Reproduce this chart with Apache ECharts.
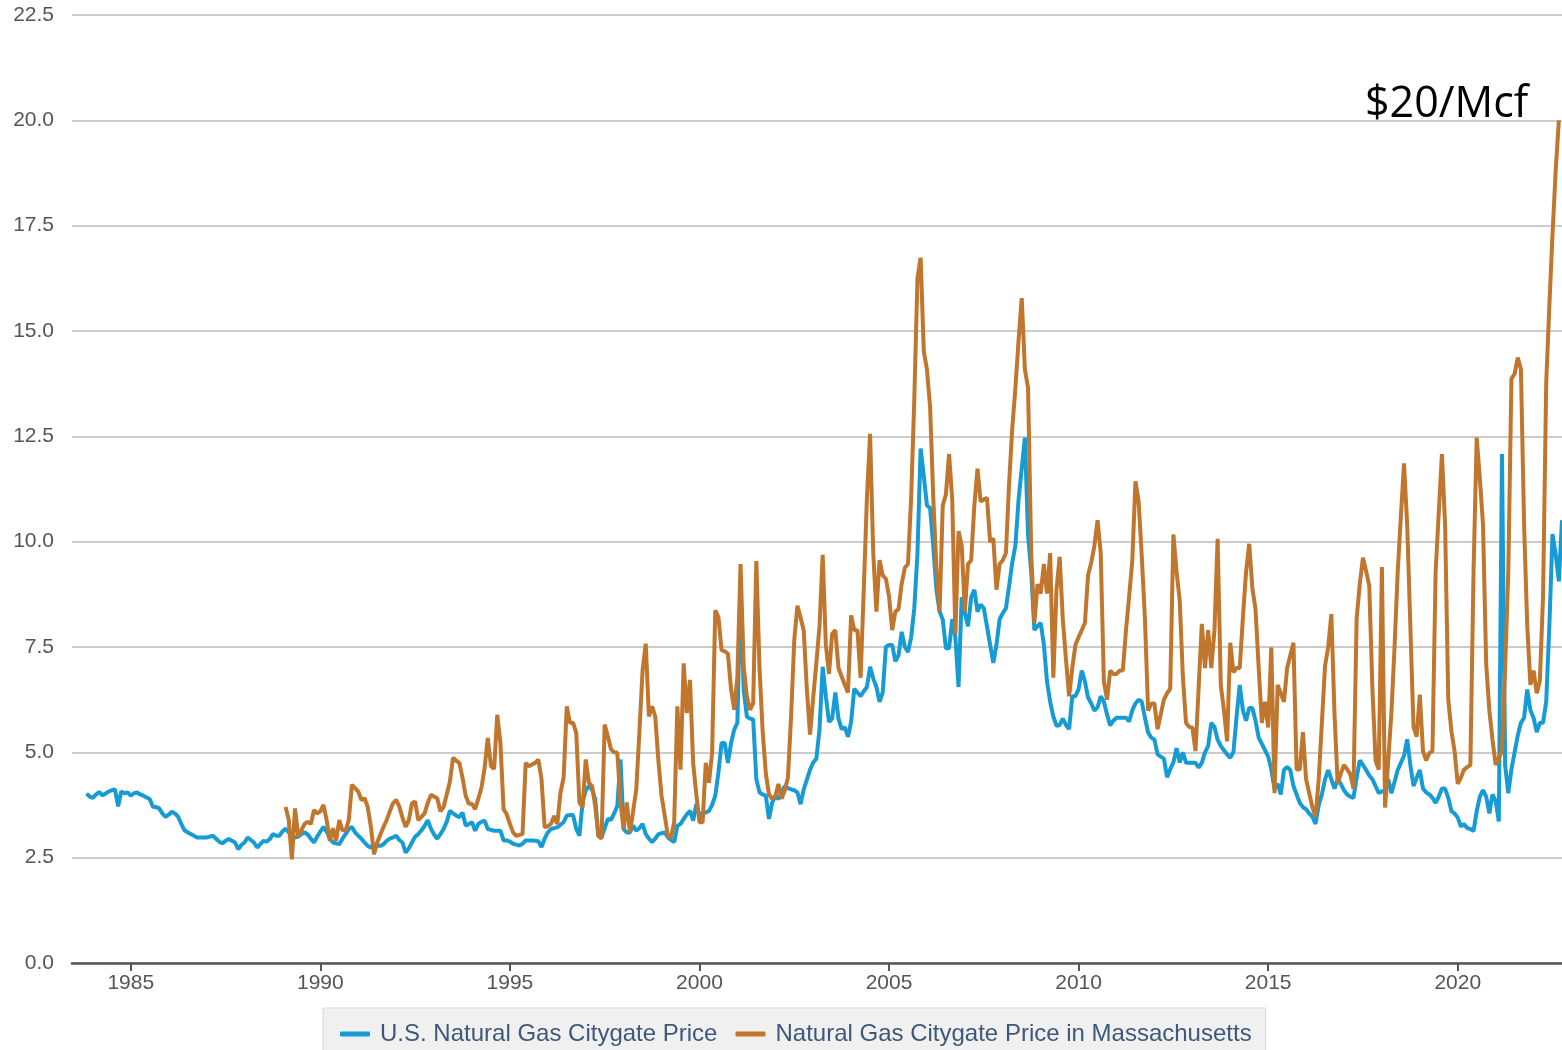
<!DOCTYPE html>
<html lang="en">
<head>
<meta charset="UTF-8">
<title>Natural Gas Citygate Price</title>
<script src="https://cdn.jsdelivr.net/npm/echarts@6/dist/echarts.min.js"></script>
<style>
    html, body { margin: 0; padding: 0; background: #fff; }
    #main { width: 1562px; height: 1050px; }
</style>
</head>
<body>
<div id="main"></div>
<script type="text/javascript">
    // dollars per thousand cubic feet, monthly
    var seriesNames = ['U.S. Natural Gas Citygate Price', 'Natural Gas Citygate Price in Massachusetts'];
    var yearTicks = [1985, 1990, 1995, 2000, 2005, 2010, 2015, 2020];
    var yTicks = [0, 2.5, 5, 7.5, 10, 12.5, 15, 17.5, 20, 22.5];
    var noteText = '$20/Mcf';

    // U.S. series, first value is Oct 1983
    var usStart = [1983, 10];
    var usPrice = [
        4.02, 3.95, 3.92,
        4.00, 4.06, 3.98, 4.02, 4.07, 4.10, 4.12, 3.72, 4.07, 4.03, 4.05, 3.97,
        4.03, 4.05, 4.00, 3.97, 3.93, 3.89, 3.71, 3.70, 3.67, 3.55, 3.47, 3.52,
        3.59, 3.55, 3.47, 3.30, 3.15, 3.10, 3.06, 3.02, 2.98, 2.98, 2.98, 2.98,
        3.00, 3.02, 2.95, 2.88, 2.84, 2.90, 2.94, 2.90, 2.86, 2.70, 2.80, 2.86,
        2.98, 2.92, 2.86, 2.74, 2.82, 2.90, 2.88, 2.94, 3.06, 3.02, 3.02, 3.12,
        3.19, 3.10, 3.02, 2.98, 3.00, 3.06, 3.10, 3.05, 2.95, 2.86, 3.00, 3.12,
        3.23, 3.12, 2.95, 2.86, 2.84, 2.82, 2.95, 3.06, 3.18, 3.23, 3.10, 3.02,
        2.95, 2.86, 2.78, 2.74, 2.76, 2.78, 2.78, 2.82, 2.90, 2.95, 2.98, 3.02,
        2.92, 2.86, 2.62, 2.72, 2.86, 3.00, 3.06, 3.15, 3.25, 3.39, 3.19, 3.05,
        2.95, 3.06, 3.18, 3.35, 3.61, 3.55, 3.50, 3.46, 3.57, 3.26, 3.30, 3.34,
        3.14, 3.30, 3.35, 3.38, 3.18, 3.16, 3.14, 3.14, 3.14, 2.91, 2.91, 2.88,
        2.83, 2.81, 2.79, 2.83, 2.91, 2.91, 2.91, 2.90, 2.89, 2.75, 2.95, 3.10,
        3.18, 3.20, 3.22, 3.28, 3.34, 3.50, 3.51, 3.51, 3.18, 3.02, 3.81, 4.10,
        4.20, 4.12, 3.89, 3.02, 2.98, 3.20, 3.42, 3.40, 3.55, 3.73, 4.83, 3.18,
        3.10, 3.10, 3.26, 3.14, 3.20, 3.30, 3.06, 2.95, 2.87, 2.95, 3.06, 3.08,
        3.10, 2.98, 2.92, 2.87, 3.26, 3.30, 3.42, 3.53, 3.61, 3.38, 3.77, 3.50,
        3.55, 3.57, 3.61, 3.75, 3.97, 4.52, 5.22, 5.22, 4.75, 5.22, 5.54, 5.70,
        8.90, 6.48, 5.85, 5.80, 5.78, 4.36, 4.05, 4.00, 3.97, 3.42, 3.80, 3.97,
        3.89, 4.05, 4.20, 4.15, 4.12, 4.10, 4.05, 3.77, 4.12, 4.35, 4.59, 4.76,
        4.85, 5.55, 7.03, 6.33, 5.72, 5.80, 6.42, 5.80, 5.55, 5.60, 5.37, 5.72,
        6.51, 6.42, 6.33, 6.45, 6.55, 7.03, 6.75, 6.55, 6.20, 6.42, 7.50, 7.55,
        7.55, 7.16, 7.30, 7.86, 7.50, 7.38, 7.73, 8.42, 9.73, 12.21, 11.56, 10.86,
        10.80, 9.90, 8.86, 8.34, 8.15, 7.47, 7.47, 8.16, 7.72, 6.55, 8.68, 8.30,
        7.99, 8.68, 8.86, 8.34, 8.51, 8.42, 7.99, 7.55, 7.12, 7.55, 8.16, 8.30,
        8.42, 8.95, 9.50, 9.91, 11.00, 11.74, 12.47, 10.16, 9.29, 7.90, 8.00, 8.07,
        7.56, 6.68, 6.20, 5.85, 5.63, 5.65, 5.80, 5.65, 5.55, 6.33, 6.33, 6.50,
        6.94, 6.68, 6.30, 6.16, 5.99, 6.07, 6.33, 6.20, 5.90, 5.64, 5.75, 5.82,
        5.82, 5.82, 5.82, 5.73, 6.00, 6.16, 6.25, 6.20, 5.82, 5.47, 5.35, 5.30,
        4.95, 4.90, 4.85, 4.41, 4.60, 4.76, 5.10, 4.76, 5.00, 4.75, 4.75, 4.75,
        4.75, 4.64, 4.75, 5.00, 5.15, 5.70, 5.60, 5.30, 5.15, 5.05, 4.95, 4.87,
        5.00, 5.85, 6.60, 6.00, 5.75, 6.05, 6.05, 5.75, 5.35, 5.20, 5.05, 4.90,
        4.59, 4.14, 4.25, 4.00, 4.58, 4.65, 4.58, 4.20, 4.00, 3.80, 3.70, 3.65,
        3.55, 3.47, 3.30, 3.75, 4.00, 4.36, 4.58, 4.36, 4.14, 4.36, 4.25, 4.10,
        4.00, 3.95, 3.92, 4.40, 4.81, 4.70, 4.58, 4.45, 4.36, 4.20, 4.03, 4.08,
        4.05, 4.36, 4.03, 4.30, 4.58, 4.75, 4.92, 5.31, 4.70, 4.20, 4.40, 4.58,
        4.14, 4.05, 4.00, 3.92, 3.80, 3.95, 4.14, 4.14, 3.92, 3.60, 3.55, 3.45,
        3.24, 3.30, 3.20, 3.18, 3.13, 3.60, 3.95, 4.10, 3.95, 3.55, 4.00, 3.85,
        3.36, 12.08, 4.70, 4.03, 4.60, 5.00, 5.40, 5.70, 5.82, 6.49, 6.00, 5.82,
        5.48, 5.70, 5.70, 6.20, 8.00, 10.18, 9.70, 9.06, 10.51
    ];

    // Massachusetts series, first value is Jan 1989
    var maStart = [1989, 1];
    var maPrice = [
        3.70, 3.40, 2.46, 3.67, 3.00, 3.15, 3.30, 3.35, 3.30, 3.63, 3.55, 3.60,
        3.75, 3.39, 2.90, 3.20, 2.90, 3.39, 3.15, 3.15, 3.39, 4.23, 4.15, 4.07,
        3.87, 3.91, 3.70, 3.23, 2.58, 2.86, 3.05, 3.23, 3.39, 3.60, 3.79, 3.87,
        3.71, 3.45, 3.23, 3.39, 3.79, 3.83, 3.39, 3.47, 3.55, 3.80, 3.99, 3.95,
        3.91, 3.60, 3.70, 4.00, 4.30, 4.87, 4.80, 4.75, 4.40, 3.97, 3.78, 3.78,
        3.65, 3.90, 4.16, 4.63, 5.34, 4.68, 4.60, 5.89, 5.22, 3.65, 3.53, 3.30,
        3.10, 3.02, 3.04, 3.06, 4.75, 4.67, 4.71, 4.75, 4.83, 4.36, 3.22, 3.25,
        3.30, 3.49, 3.30, 4.04, 4.40, 6.09, 5.70, 5.70, 5.46, 3.81, 3.69, 4.83,
        4.28, 4.20, 3.73, 3.02, 2.95, 5.66, 5.38, 5.07, 5.00, 4.99, 3.81, 3.18,
        3.81, 3.10, 3.60, 4.12, 5.50, 6.95, 7.58, 5.85, 6.09, 5.85, 4.80, 3.97,
        3.50, 3.02, 2.98, 3.34, 6.09, 4.59, 7.11, 5.93, 6.72, 4.75, 4.00, 3.34,
        3.34, 4.75, 4.28, 5.00, 8.37, 8.21, 7.42, 7.40, 7.34, 6.50, 6.01, 6.80,
        9.47, 7.03, 6.33, 6.01, 6.17, 9.54, 7.00, 5.50, 4.50, 4.00, 3.90, 3.95,
        4.25, 3.90, 4.10, 4.40, 5.85, 7.66, 8.48, 8.20, 7.89, 6.48, 5.42, 6.30,
        7.12, 8.00, 9.69, 7.55, 6.86, 7.81, 7.90, 7.00, 6.80, 6.60, 6.42, 8.25,
        7.90, 7.90, 6.77, 8.86, 11.04, 12.56, 9.73, 8.34, 9.56, 9.20, 9.12, 8.70,
        7.90, 8.34, 8.40, 9.00, 9.38, 9.47, 11.04, 13.39, 16.26, 16.74, 14.52, 14.09,
        13.20, 11.04, 9.38, 8.34, 10.86, 11.12, 12.08, 11.00, 7.81, 10.25, 9.90, 8.34,
        9.47, 9.56, 10.86, 11.73, 10.95, 11.00, 11.04, 9.99, 10.08, 8.86, 9.47, 9.56,
        9.73, 11.38, 12.69, 13.65, 14.78, 15.78, 14.09, 13.65, 9.73, 8.07, 8.99, 8.77,
        9.47, 8.77, 9.73, 6.77, 8.86, 9.64, 8.16, 7.20, 6.33, 7.00, 7.55, 7.73,
        7.90, 8.07, 9.21, 9.50, 9.90, 10.51, 9.73, 6.68, 6.25, 6.94, 6.86, 6.86,
        6.94, 6.94, 7.90, 8.70, 9.56, 11.43, 10.95, 9.64, 8.16, 5.99, 6.16, 6.16,
        5.55, 5.90, 6.25, 6.40, 6.51, 10.17, 9.30, 8.60, 6.80, 5.70, 5.60, 5.59,
        5.03, 6.55, 8.05, 7.00, 7.90, 7.00, 7.90, 10.07, 6.60, 6.00, 5.26, 7.60,
        6.90, 7.00, 7.00, 8.20, 9.28, 9.95, 8.90, 8.39, 7.00, 5.70, 6.20, 5.59,
        7.49, 4.03, 6.60, 6.40, 6.20, 7.00, 7.30, 7.60, 4.59, 4.59, 5.48, 4.36,
        4.03, 3.70, 3.47, 4.36, 5.70, 7.05, 7.50, 8.28, 5.90, 4.25, 4.50, 4.70,
        4.60, 4.48, 4.14, 8.17, 9.00, 9.62, 9.30, 8.95, 6.50, 4.80, 4.59, 9.40,
        3.69, 4.81, 5.93, 7.50, 9.28, 10.60, 11.86, 10.40, 8.00, 5.60, 5.37, 6.37,
        5.03, 4.81, 4.98, 5.03, 9.28, 10.70, 12.08, 10.40, 6.26, 5.50, 5.03, 4.25,
        4.40, 4.59, 4.65, 4.70, 9.28, 12.47, 11.50, 10.40, 7.10, 6.00, 5.30, 4.70,
        4.87, 5.03, 7.00, 9.28, 13.87, 13.98, 14.37, 14.09, 10.40, 8.00, 6.60, 6.94,
        6.40, 6.70, 8.70, 13.76, 15.60, 17.30, 18.80, 20.00
    ];

    // each monthly value is plotted at the end of its month on a decimal-year axis
    function toPoints(start, values) {
        return values.map(function (v, i) {
            var m = start[1] - 1 + i;
            return [start[0] + (m + 1) / 12, v];
        });
    }

    var chart = echarts.init(document.getElementById('main'));
    var labelFont = 'Liberation Sans';

    var option = {
        animation: false,
        backgroundColor: '#ffffff',
        grid: { left: 72, right: 0, top: 15, bottom: 87 },
        xAxis: {
            type: 'value',
            min: 1983.45,
            max: 2022.75,
            axisLine: { lineStyle: { color: '#555555', width: 2.5 } },
            axisTick: { customValues: yearTicks, length: 8, lineStyle: { color: '#555555', width: 2 } },
            axisLabel: {
                customValues: yearTicks,
                color: '#555555', fontSize: 21, fontFamily: labelFont, margin: 10,
                formatter: function (v) { return String(Math.round(v)); }
            },
            splitLine: { show: false }
        },
        yAxis: {
            type: 'value',
            min: yTicks[0],
            max: yTicks[yTicks.length - 1],
            interval: 2.5,
            axisLine: { show: false },
            axisTick: { show: false },
            axisLabel: {
                color: '#555555', fontSize: 21, fontFamily: labelFont, margin: 18,
                formatter: function (v) { return v.toFixed(1); }
            },
            splitLine: { lineStyle: { color: '#cccccc', width: 2 } }
        },
        legend: {
            left: 323,
            top: 1008,
            data: seriesNames,
            icon: 'roundRect',
            itemWidth: 30,
            itemHeight: 5,
            itemGap: 18,
            padding: [14, 14, 30, 17],
            backgroundColor: '#f0f0f0',
            borderColor: '#d8d8d8',
            borderWidth: 1,
            textStyle: { color: '#3e5879', fontSize: 24, fontFamily: labelFont, padding: [0, 0, 0, 5] }
        },
        graphic: [{
            type: 'text',
            x: 1365,
            y: 105,
            style: { text: noteText, font: '43px "Open Sans"', fill: '#000000', verticalAlign: 'middle' }
        }],
        series: [
            {
                name: seriesNames[0],
                type: 'line',
                data: toPoints(usStart, usPrice),
                showSymbol: false,
                color: '#169bd5',
                lineStyle: { width: 4, color: '#169bd5' }
            },
            {
                name: seriesNames[1],
                type: 'line',
                data: toPoints(maStart, maPrice),
                showSymbol: false,
                color: '#c0762c',
                lineStyle: { width: 4, color: '#c0762c' }
            }
        ]
    };
    chart.setOption(option);
</script>
</body>
</html>
